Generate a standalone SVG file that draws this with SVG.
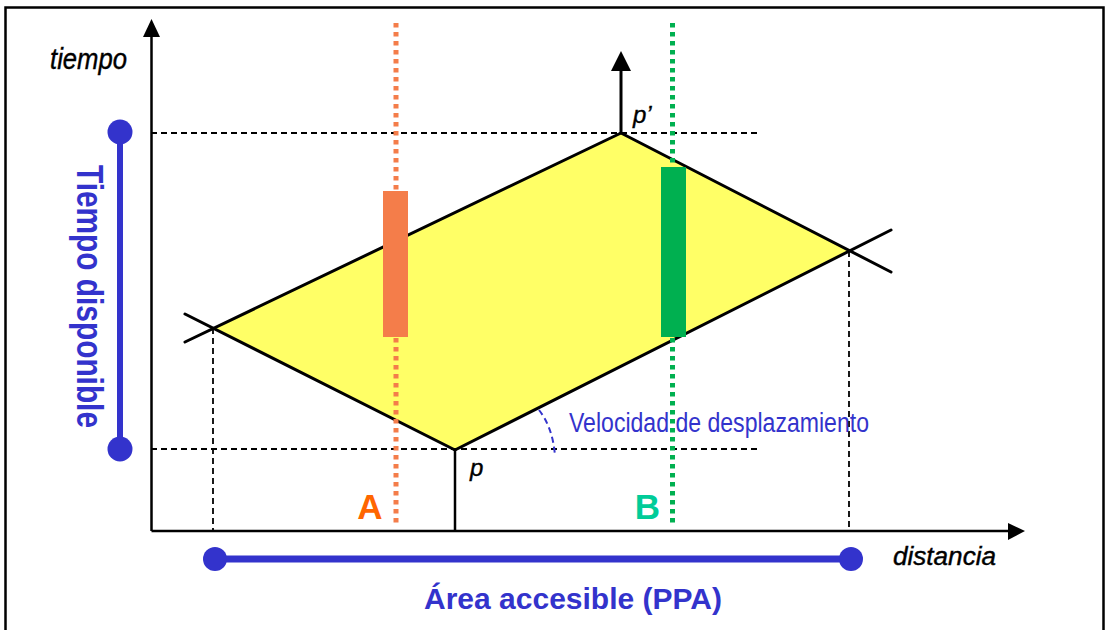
<svg xmlns="http://www.w3.org/2000/svg" width="1107" height="630" viewBox="0 0 1107 630">
<style>
.dash{stroke:#000;stroke-width:1.8;stroke-dasharray:6 4;fill:none}
.edge{stroke:#000;stroke-width:3;fill:none;stroke-linecap:round}
.axis{stroke:#000;stroke-width:2.5;fill:none}
.blue{fill:#3333CC}
.lbl{font-family:"Liberation Sans",Arial,sans-serif}
.ital{font-style:italic;stroke:#000;stroke-width:0.4}
</style>
<rect width="1107" height="630" fill="#fff"/>
<rect x="5.5" y="7.5" width="1098" height="640" fill="none" stroke="#000" stroke-width="2.5"/>

<g id="region">
<polygon points="213,328 455,450 849,251 621,133" fill="#FFFF66"/>
</g>

<g id="guides">
<line class="dash" x1="151" y1="133" x2="758" y2="133"/>
<line class="dash" x1="151" y1="449" x2="759" y2="449"/>
<line class="dash" x1="213" y1="328" x2="213" y2="531"/>
<line class="dash" x1="849" y1="251" x2="849" y2="531"/>
</g>

<g id="axes">
<line class="axis" x1="151.5" y1="531" x2="151.5" y2="35"/>
<polygon points="151.5,19 143,37 160,37"/>
<line class="axis" x1="151.5" y1="531" x2="1010" y2="531"/>
<polygon points="1025,531 1008,523 1008,540"/>
</g>

<g id="connectors">
<line class="edge" x1="185" y1="342" x2="621" y2="133"/>
<line class="edge" x1="621" y1="133" x2="891" y2="272"/>
<line class="edge" x1="185" y1="314" x2="455" y2="450"/>
<line class="edge" x1="455" y1="450" x2="891" y2="230"/>
<line x1="455" y1="450" x2="455" y2="531" stroke="#000" stroke-width="2.5"/>
<line x1="621" y1="133" x2="621" y2="68" stroke="#000" stroke-width="3"/>
<polygon points="621,51 611,71 631,71"/>
<path d="M539,410 Q553,428 555,456" fill="none" stroke="#3333CC" stroke-width="2" stroke-dasharray="6 4"/>
</g>

<g id="A">
<line x1="396" y1="23" x2="396" y2="527" stroke="#F47D4A" stroke-width="5" stroke-dasharray="4.5 4.5"/>
<rect x="383" y="191" width="25" height="146" fill="#F47D4A"/>
<text class="lbl" x="370" y="519" font-size="35" font-weight="bold" fill="#FF6600" text-anchor="middle">A</text>
</g>

<g id="B">
<line x1="672.5" y1="23" x2="672.5" y2="527" stroke="#00B050" stroke-width="5" stroke-dasharray="4.5 4.5"/>
<rect x="661" y="167" width="25" height="170" fill="#00B050"/>
<text class="lbl" x="647.5" y="519" font-size="35" font-weight="bold" fill="#00CC99" text-anchor="middle">B</text>
</g>

<g id="points">
<text class="lbl ital" x="633" y="123" font-size="24">p’</text>
<text class="lbl ital" x="470" y="476" font-size="24">p</text>
</g>

<g id="axis-labels">
<text class="lbl ital" x="50" y="69" font-size="29" textLength="77" lengthAdjust="spacingAndGlyphs">tiempo</text>
<text class="lbl ital" x="893" y="565" font-size="25" textLength="103" lengthAdjust="spacingAndGlyphs">distancia</text>
<text class="lbl" x="569" y="432" font-size="27" fill="#3333CC" textLength="300" lengthAdjust="spacingAndGlyphs">Velocidad de desplazamiento</text>
</g>

<g id="tiempo-disponible">
<line x1="120" y1="133" x2="120" y2="449" stroke="#3333CC" stroke-width="6"/>
<circle class="blue" cx="120" cy="132" r="12.5"/>
<circle class="blue" cx="120" cy="449" r="12.5"/>
<text class="lbl" transform="translate(77,296.5) rotate(90)" font-size="36" font-weight="bold" fill="#3333CC" text-anchor="middle" textLength="263" lengthAdjust="spacingAndGlyphs">Tiempo disponible</text>
</g>

<g id="area-accesible">
<line x1="215" y1="559" x2="851" y2="559" stroke="#3333CC" stroke-width="7"/>
<circle class="blue" cx="215" cy="559" r="12"/>
<circle class="blue" cx="851" cy="559" r="12"/>
<text class="lbl" x="573" y="609" font-size="30" font-weight="bold" fill="#3333CC" text-anchor="middle">Área accesible (PPA)</text>
</g>
</svg>
